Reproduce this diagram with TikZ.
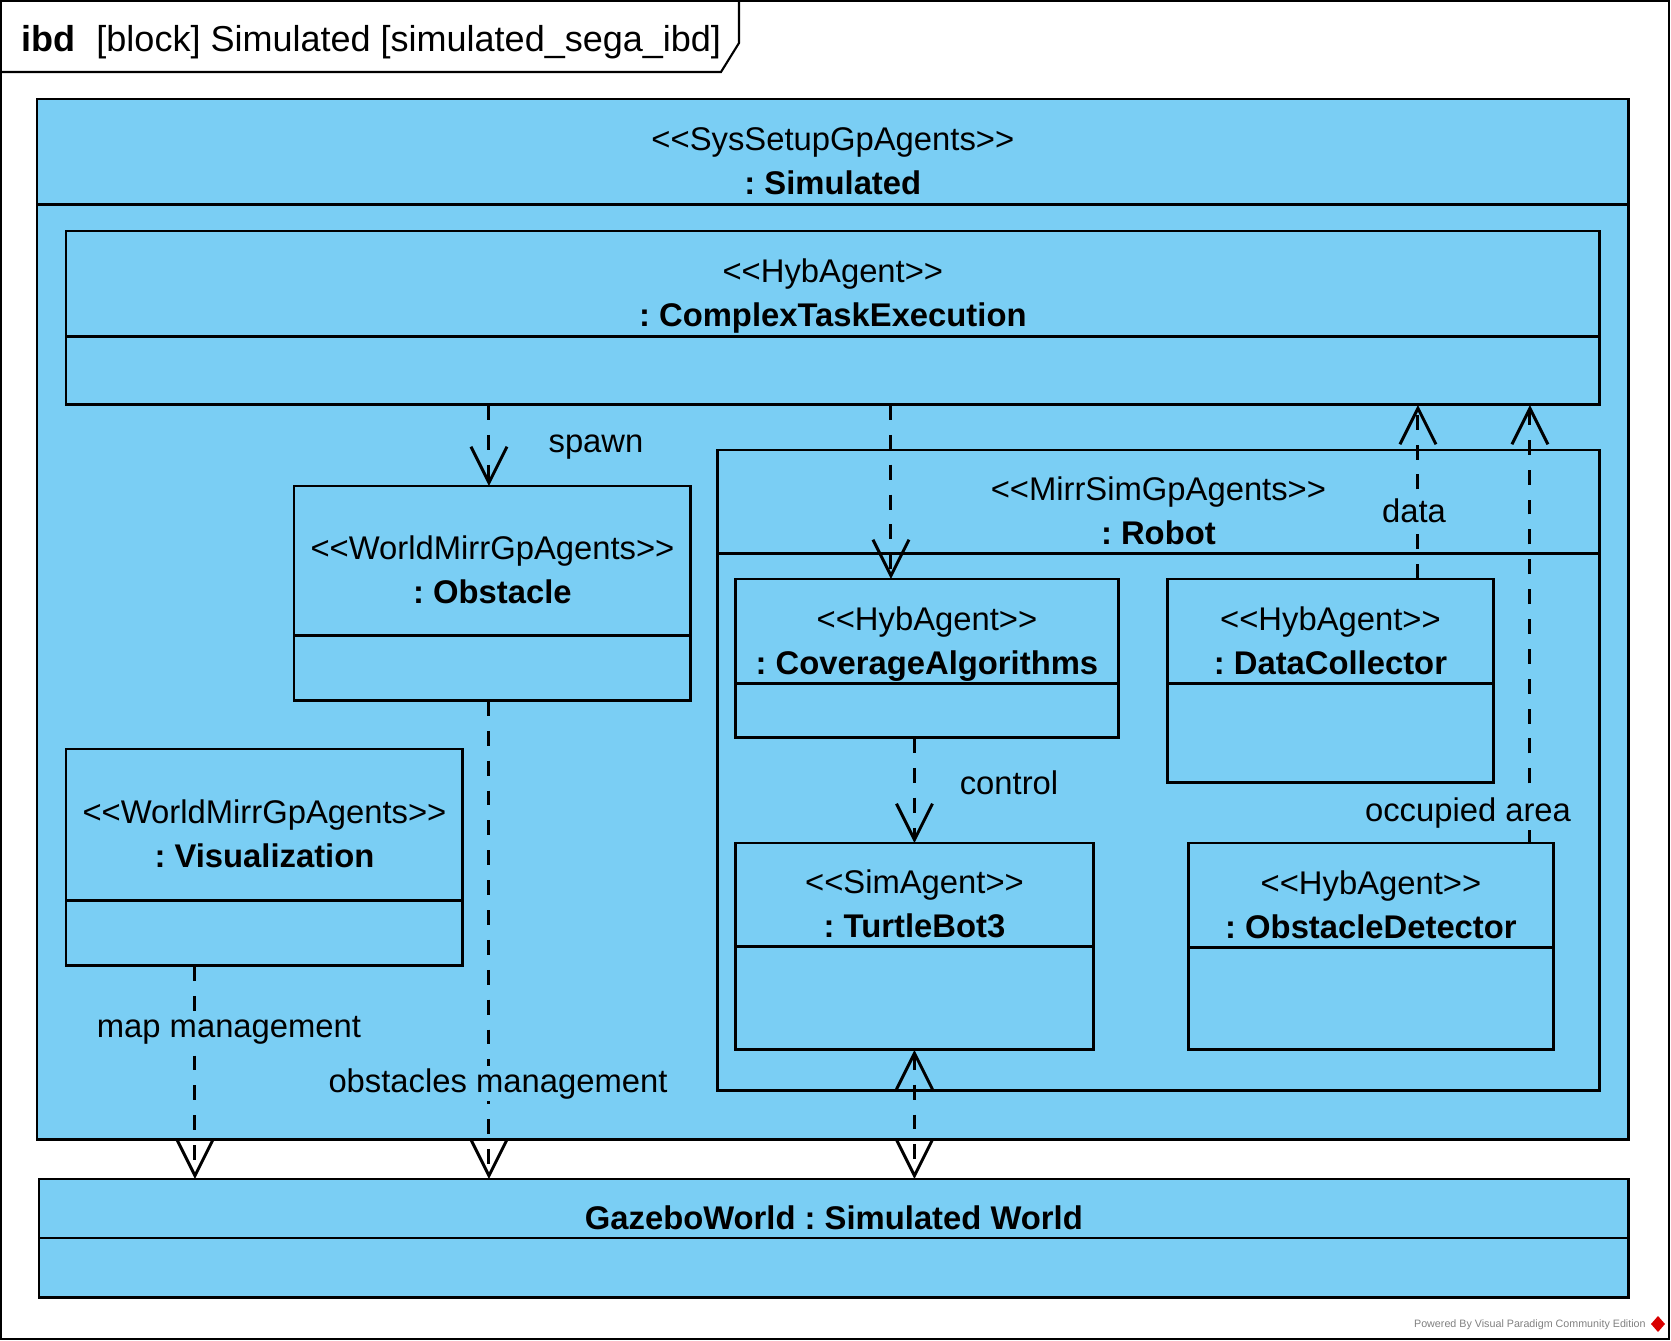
\documentclass[tikz,border=0pt]{standalone}
\usepackage{fontspec}
\setmainfont{Liberation Sans}
\usetikzlibrary{arrows.meta,positioning}
\frenchspacing
\definecolor{simblue}{RGB}{122,206,244}
\newcommand{\diafont}{\fontsize{18.66}{25}\selectfont}
\newcommand{\titlefont}{\fontsize{20.5}{24}\selectfont}
\newcommand{\stereo}[1]{\textless\kern0pt\textless#1\textgreater\kern0pt\textgreater}
\newcommand{\partlines}[1]{\raisebox{-6.8pt}[\height][\depth]{\begin{tabular}{@{}c@{}}#1\end{tabular}}}
\tikzset{
    >={Straight Barb[length=0.72cm, width=0.72cm]},
    parthead/.style={draw, fill=simblue, line width=1.7pt, inner sep=0pt, outer sep=0pt, anchor=north west, font=\diafont},
    partbody/.style={draw, fill=simblue, line width=1.7pt, inner sep=0pt, outer sep=0pt},
    deparrow/.style={->, line width=1.7pt, dash pattern=on 8.5pt off 8.5pt},
    flowlabel/.style={fill=simblue, inner sep=1pt, anchor=base, font=\diafont},
    framelines/.style={line width=1.2pt}
}
\begin{document}
\begin{tikzpicture}[x=0.02cm, y=-0.02cm]
    \useasboundingbox (0,0) rectangle (1671,1341);
    % diagram frame
    \draw[framelines] (1,1) rectangle (1669,1339);
    \draw[framelines] (1,72) -- (721,72) -- (739,43) -- (739,1);
    \node[anchor=base west, font=\titlefont, inner sep=0pt] (title) at (21,52) {\textbf{ibd}\hspace{12pt}[block] Simulated [simulated\_sega\_ibd]};

    % outer block
    \node[parthead, minimum width=31.84cm, minimum height=2.12cm] (sim) at (37,99) {\partlines{\stereo{SysSetupGpAgents}\\ \textbf{: Simulated}}};
    \node[partbody, below=0pt of sim, minimum width=31.84cm, minimum height=18.7cm] (simb) {};

    \node[parthead, minimum width=30.68cm, minimum height=2.12cm] (cte) at (66,231) {\partlines{\stereo{HybAgent}\\ \textbf{: ComplexTaskExecution}}};
    \node[partbody, below=0pt of cte, minimum width=30.68cm, minimum height=1.36cm] (cteb) {};

    \node[parthead, minimum width=7.94cm, minimum height=3.0cm] (obs) at (294,486) {\partlines{\stereo{WorldMirrGpAgents}\\ \textbf{: Obstacle}}};
    \node[partbody, below=0pt of obs, minimum width=7.94cm, minimum height=1.3cm] (obsb) {};

    \node[parthead, minimum width=7.94cm, minimum height=3.04cm] (vis) at (66,749) {\partlines{\stereo{WorldMirrGpAgents}\\ \textbf{: Visualization}}};
    \node[partbody, below=0pt of vis, minimum width=7.94cm, minimum height=1.3cm] (visb) {};

    % robot and its parts
    \node[parthead, minimum width=17.66cm, minimum height=2.08cm] (rob) at (717,450) {\partlines{\stereo{MirrSimGpAgents}\\ \textbf{: Robot}}};
    \node[partbody, below=0pt of rob, minimum width=17.66cm, minimum height=10.74cm] (robb) {};

    \node[parthead, minimum width=7.68cm, minimum height=2.1cm] (ca) at (735,579) {\partlines{\stereo{HybAgent}\\ \textbf{: CoverageAlgorithms}}};
    \node[partbody, below=0pt of ca, minimum width=7.68cm, minimum height=1.08cm] (cab) {};

    \node[parthead, minimum width=6.54cm, minimum height=2.1cm] (dc) at (1167,579) {\partlines{\stereo{HybAgent}\\ \textbf{: DataCollector}}};
    \node[partbody, below=0pt of dc, minimum width=6.54cm, minimum height=1.98cm] (dcb) {};

    \node[parthead, minimum width=7.18cm, minimum height=2.08cm] (tb) at (735,843) {\partlines{\stereo{SimAgent}\\ \textbf{: TurtleBot3}}};
    \node[partbody, below=0pt of tb, minimum width=7.18cm, minimum height=2.06cm] (tbb) {};

    \node[parthead, minimum width=7.32cm, minimum height=2.1cm] (od) at (1188,843) {\partlines{\stereo{HybAgent}\\ \textbf{: ObstacleDetector}}};
    \node[partbody, below=0pt of od, minimum width=7.32cm, minimum height=2.04cm] (odb) {};

    % simulated world
    \node[parthead, minimum width=31.8cm, minimum height=1.18cm] (gz) at (39,1179) {\partlines{\textbf{GazeboWorld : Simulated World}}};
    \node[partbody, below=0pt of gz, minimum width=31.8cm, minimum height=1.2cm] (gzb) {};

    % dependencies
    \draw[deparrow] ([xshift=-0.07cm]cteb.south -| obs.north) -- ([xshift=-0.07cm]obs.north);
    \draw[deparrow] ([xshift=-0.72cm]cteb.south -| ca.north) -- ([xshift=-0.72cm]ca.north);
    \draw[deparrow] (cab.south -| tb.north) -- (tb.north);
    \draw[deparrow] ([xshift=1.75cm]dc.north) -- ([xshift=1.75cm]dc.north |- cteb.south);
    \draw[deparrow] ([xshift=3.18cm]od.north) -- ([xshift=3.18cm]od.north |- cteb.south);
    \draw[deparrow, <->] (tbb.south) -- (tbb.south |- gz.north);
    \draw[deparrow] ([xshift=-1.39cm]visb.south) -- ([xshift=-1.39cm]visb.south |- gz.north);
    \draw[deparrow] ([xshift=-0.07cm]obsb.south) -- ([xshift=-0.07cm]obsb.south |- gz.north);

    \node[flowlabel] (spawnlbl) at (596,453) {spawn};
    \node[flowlabel] (datalbl) at (1414,522) {data};
    \node[flowlabel] (occlbl) at (1468,821) {occupied area};
    \node[flowlabel] (ctrllbl) at (1009,794) {control};
    \node[flowlabel] (maplbl) at (229,1037) {map management};
    \node[flowlabel] (obslbl) at (498,1092) {obstacles management};

    % footer
    \node[anchor=base east, inner sep=0pt, font=\fontsize{6.1}{7}\selectfont, text=gray] (vpnote) at (1646,1327) {Powered By Visual Paradigm Community Edition};
    \fill[red!85!black] (1658,1316) -- (1665,1324) -- (1658,1332) -- (1651,1324) -- cycle;
\end{tikzpicture}
\end{document}
